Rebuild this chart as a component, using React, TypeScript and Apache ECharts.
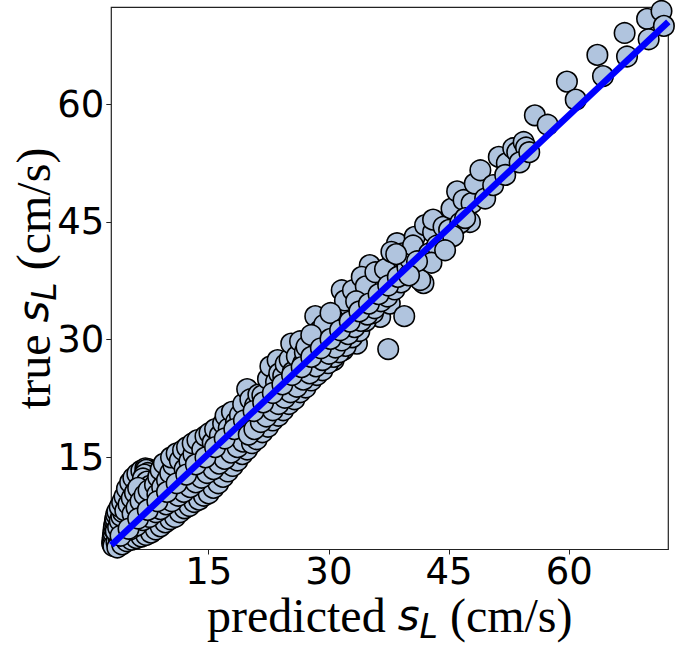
import React, { useEffect, useRef } from "react";
import * as echarts from "echarts";

// ---- values ----
// low range (predicted < 20)
const lowPredicted = [
  2.95, 3.0, 3.05, 3.1, 3.15, 3.2, 3.3, 3.35, 3.45, 3.6, 3.1, 3.5, 3.8, 3.4, 3.7, 3.9, 4.1, 4.3, 3.9, 4.2,
  4.5, 4.8, 5.2, 5.6, 6.1, 6.6, 7.1, 7.5, 7.8, 8.0, 7.2, 7.4, 7.6, 7.8, 8.0, 7.0, 6.8, 7.3, 7.7,
  4.6, 5.0, 5.4, 5.8, 6.2, 5.5, 6.0, 6.5, 7.0, 7.5, 8.3, 8.7, 9.0, 9.4, 8.6, 9.2, 9.8, 10.2, 10.6, 10.3,
  11.0, 11.4, 11.8, 12.3, 12.0, 12.6, 13.1, 13.0, 13.6, 14.2, 14.6, 15.1, 15.5, 15.8, 16.4, 16.8, 17.1,
  17.5, 17.9, 18.4, 18.9, 19.3, 19.8,
  3.6, 4.2, 4.8, 5.4, 6.0, 6.6, 7.2, 7.8, 8.4, 9.0, 9.6, 10.2, 10.8, 11.4, 12.0, 12.6, 13.2, 13.8, 14.4,
  15.0, 15.6, 16.2, 16.8, 17.4, 18.0, 18.6, 19.2, 19.8,
  5.2, 6.0, 6.8, 7.6, 8.4, 9.0, 9.7, 10.4, 11.2, 11.9, 12.7, 13.4, 14.1, 14.8, 15.6, 16.3, 17.0, 17.8,
  18.6, 19.3,
  4.0, 5.0, 6.2, 7.4, 8.6, 9.8, 11.0, 12.2, 13.4, 14.6, 15.8, 17.0, 18.2, 19.4,
];
const lowTrue = [
  4.0, 4.5, 5.0, 5.4, 5.9, 6.3, 6.8, 7.2, 7.7, 8.1, 3.7, 4.2, 4.6, 5.6, 6.1, 6.9, 7.5, 8.0, 8.7, 9.3,
  10.0, 11.0, 11.8, 12.4, 12.9, 13.3, 13.6, 13.5, 13.3, 12.9, 13.4, 13.0, 12.6, 12.2, 11.8, 12.8, 12.3, 11.9, 11.4,
  8.2, 9.0, 9.8, 10.5, 11.1, 7.8, 8.6, 9.4, 10.2, 10.8, 11.5, 12.5, 13.4, 14.2, 10.3, 11.2, 12.1, 13.0, 14.0, 15.0,
  15.5, 14.6, 15.9, 16.3, 13.5, 14.5, 15.4, 16.8, 17.2, 16.0, 17.7, 18.1, 16.9, 18.6, 17.8, 19.3, 20.3,
  18.7, 20.8, 19.5, 20.4, 21.8, 23.7,
  3.5, 3.9, 4.3, 4.5, 4.7, 4.9, 5.1, 5.4, 5.8, 6.2, 6.7, 7.1, 7.4, 8.0, 8.5, 8.8, 9.3, 9.6, 10.1,
  10.4, 11.1, 11.7, 12.5, 13.2, 13.9, 14.6, 15.4, 16.0,
  5.8, 6.3, 7.0, 7.4, 8.0, 8.4, 9.0, 9.4, 10.1, 10.6, 11.2, 11.8, 12.4, 13.0, 13.5, 14.2, 14.8, 15.6,
  16.3, 17.0,
  5.0, 5.9, 7.2, 8.3, 9.4, 10.6, 11.7, 12.8, 14.1, 15.0, 16.3, 17.4, 18.6, 19.7,
];

// middle range (20 <= predicted < 40)
const midPredicted = [
  20.2, 20.8, 21.2, 21.7, 22.4, 22.7, 23.4, 23.6, 23.8, 24.3, 24.6, 25.1, 25.5, 25.3, 26.0, 26.4, 26.8,
  27.0, 27.2, 28.3, 28.9, 28.5, 28.9, 29.7, 30.6, 31.4, 31.6, 31.8, 30.6, 32.6, 33.9, 33.5, 35.1, 35.1,
  36.4, 36.4, 36.8, 37.6, 38.0, 38.5, 39.7, 32.0, 33.0, 34.1, 34.6, 33.4, 35.8, 37.0, 37.8, 39.2, 38.9,
  29.4, 30.2, 27.8,
  20.4, 21.0, 21.7, 22.4, 23.0, 23.7, 24.3, 25.0, 25.7, 26.4, 27.1, 27.8, 28.5, 29.2, 29.9, 30.6, 31.3,
  32.1, 32.9, 33.8, 34.6, 35.5, 37.4, 39.4,
  20.0, 20.7, 21.5, 22.2, 23.0, 23.7, 24.5, 25.2, 26.0, 26.8, 27.6, 28.4, 29.2, 30.0, 30.8, 31.6, 32.4,
  33.2, 34.0, 34.8, 35.7, 36.5, 37.3, 38.2, 39.0,
  20.6, 21.8, 23.0, 24.2, 25.4, 26.6, 27.8, 29.0, 30.2, 31.4, 32.6, 33.8, 35.0, 36.2, 37.4, 38.6, 39.8,
];
const midTrue = [
  22.4, 21.6, 23.0, 22.9, 25.0, 26.6, 24.6, 27.4, 25.7, 25.4, 26.9, 27.5, 25.9, 29.5, 27.9, 29.8, 27.0,
  28.4, 29.1, 33.0, 31.2, 28.3, 26.1, 29.5, 32.5, 30.8, 36.3, 28.7, 27.4, 34.2, 32.9, 29.5, 36.5, 39.5,
  37.2, 32.9, 35.5, 34.6, 40.1, 42.3, 39.3, 35.0, 36.3, 38.0, 36.8, 34.9, 38.6, 39.0, 41.2, 41.0, 38.2,
  31.9, 33.4, 30.6,
  16.8, 17.3, 18.2, 18.9, 19.7, 20.3, 21.0, 21.8, 22.4, 23.3, 23.9, 24.8, 25.5, 26.1, 27.0, 27.8, 28.4,
  29.2, 30.3, 31.1, 32.4, 33.4, 28.8, 33.0,
  17.9, 18.6, 19.5, 20.2, 21.0, 21.8, 22.6, 23.3, 24.0, 24.9, 25.7, 26.6, 27.4, 28.2, 29.0, 29.9, 30.7,
  31.6, 32.4, 33.2, 34.0, 34.9, 35.5, 36.4, 37.3,
  20.9, 22.0, 23.2, 24.3, 25.5, 26.5, 27.8, 28.9, 30.1, 31.2, 32.3, 33.6, 34.6, 35.8, 36.9, 38.0, 39.2,
];

// high range (predicted >= 40)
const highPredicted = [
  40.7, 41.8, 42.2, 43.9, 46.0, 47.6, 40.1, 41.3, 40.5, 42.0, 43.0, 43.0, 44.3, 45.3, 45.0, 46.4, 46.0,
  46.8, 47.8, 48.2, 48.9, 49.5, 50.5, 51.2, 52.2, 53.0, 53.5, 54.3, 54.6, 55.7, 57.3, 59.7, 60.8, 63.5,
  64.2, 66.9, 67.2, 69.7, 69.9, 71.5, 71.8, 42.5, 43.5, 45.5, 47.0, 52.0, 53.8, 55.0, 41.4, 42.8, 44.5,
  41.0, 38.4, 40.0,
];
const highTrue = [
  43.1, 37.2, 40.4, 43.0, 44.6, 45.0, 40.3, 40.6, 42.0, 44.6, 43.7, 45.3, 44.4, 46.7, 44.0, 44.9, 48.9,
  47.8, 47.4, 49.9, 51.6, 48.0, 49.7, 53.3, 52.5, 54.4, 53.9, 55.2, 54.5, 58.6, 57.4, 62.9, 60.6, 66.3,
  63.6, 69.1, 66.1, 70.9, 68.3, 71.9, 70.0, 41.0, 42.0, 43.2, 45.5, 51.0, 52.6, 53.9, 37.6, 39.8, 41.4,
  40.0, 40.9, 38.2,
];

// fitted line end points
const fitPredicted = [2.85, 72.35];
const fitTrue = [3.82, 70.5];

// axes
const axisMin = 2.85;
const axisMaxX = 72.35;
const axisMinY = 3.25;
const axisMaxY = 72.37;
const tickValues = [15, 30, 45, 60];
const xTitle = "{t|predicted }{s|s}{l|L}{t| (cm/s)}";
const yTitle = "{t|true }{s|s}{l|L}{t| (cm/s)}";

const allPredicted = [...lowPredicted, ...midPredicted, ...highPredicted];
const allTrue = [...lowTrue, ...midTrue, ...highTrue];

const titleRich = {
  t: { fontFamily: "Liberation Serif", fontSize: 48, lineHeight: 56, fill: "#000" },
  s: { fontFamily: "DejaVu Sans", fontStyle: "italic", fontSize: 42, lineHeight: 56, fill: "#000" },
  l: {
    fontFamily: "DejaVu Sans",
    fontStyle: "italic",
    fontSize: 33,
    lineHeight: 34,
    verticalAlign: "bottom",
    fill: "#000",
  },
};

export default function App() {
  const ref = useRef<HTMLDivElement>(null);

  useEffect(() => {
    if (!ref.current) return;
    const chart = echarts.init(ref.current, undefined, { renderer: "svg" });
    const scatterData = allPredicted.map((x, i) => [x, allTrue[i]]);
    const lineData = fitPredicted.map((x, i) => [x, fitTrue[i]]);

    const labelStyle = {
      fontFamily: "DejaVu Sans",
      fontSize: 37,
      color: "#000",
    };

    chart.setOption({
      animation: false,
      backgroundColor: "#fff",
      grid: {
        left: 111.3,
        right: 7.7,
        top: 7.3,
        bottom: 100.5,
        show: true,
        borderColor: "#222",
        borderWidth: 1.2,
        backgroundColor: "transparent",
        containLabel: false,
        outerBoundsMode: "none",
      },
      xAxis: {
        type: "value",
        min: axisMin,
        max: axisMaxX,
        splitLine: { show: false },
        axisLine: { show: false },
        axisTick: {
          show: true,
          customValues: tickValues,
          length: 5,
          lineStyle: { color: "#222", width: 1 },
        },
        axisLabel: { ...labelStyle, customValues: tickValues, margin: 3 },
      },
      yAxis: {
        type: "value",
        min: axisMinY,
        max: axisMaxY,
        splitLine: { show: false },
        axisLine: { show: false },
        axisTick: {
          show: true,
          customValues: tickValues,
          length: 5,
          lineStyle: { color: "#222", width: 1 },
        },
        axisLabel: { ...labelStyle, customValues: tickValues, margin: 7 },
      },
      graphic: [
        {
          type: "text",
          x: 389.8,
          y: 615,
          silent: true,
          style: { text: xTitle, rich: titleRich, align: "center", verticalAlign: "middle" },
        },
        {
          type: "text",
          x: 33,
          y: 278.4,
          rotation: Math.PI / 2,
          silent: true,
          style: { text: yTitle, rich: titleRich, align: "center", verticalAlign: "middle" },
        },
      ],
      series: [
        {
          type: "scatter",
          data: scatterData,
          symbol: "circle",
          symbolSize: 20.5,
          itemStyle: { color: "#b0c4de", borderColor: "#000", borderWidth: 1.6, opacity: 1 },
          emphasis: { disabled: true },
          silent: true,
          clip: true,
          z: 2,
        },
        {
          type: "line",
          data: lineData,
          showSymbol: false,
          symbol: "none",
          lineStyle: { color: "#0000ff", width: 6.5 },
          silent: true,
          clip: true,
          z: 3,
        },
      ],
    });

    return () => chart.dispose();
  }, []);

  return (
    <div
      ref={ref}
      style={{ position: "fixed", left: 0, top: 0, width: 676, height: 650, background: "#fff" }}
    />
  );
}
